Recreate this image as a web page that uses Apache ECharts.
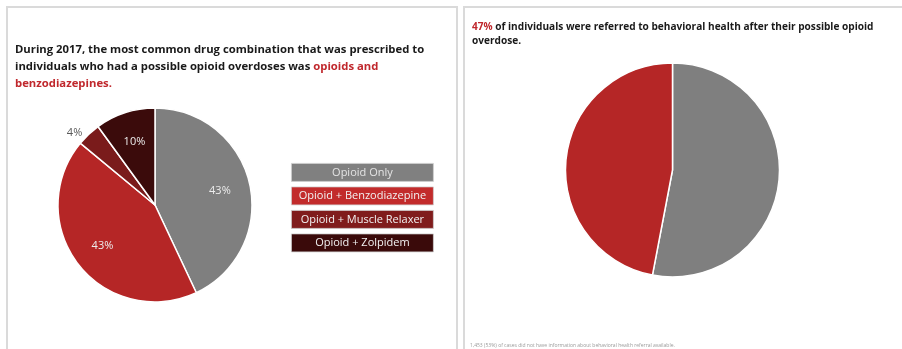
<!DOCTYPE html>
<html>
<head>
<meta charset="utf-8">
<script src="https://cdn.jsdelivr.net/npm/echarts@6/dist/echarts.min.js"></script>
<style>
  html, body { margin: 0; padding: 0; background: #fff; }
  #chart { width: 902px; height: 349px; }
</style>
</head>
<body>
<div id="chart"></div>
<script>
// Drug combinations prescribed to individuals with a possible opioid overdose (2017)
const comboNames = ['Opioid Only', 'Opioid + Benzodiazepine', 'Opioid + Muscle Relaxer', 'Opioid + Zolpidem'];
const comboShares = [43, 43, 4, 10];
const comboColors = ['#7f7f7f', '#b52626', '#7a1b1b', '#3b0b0b'];
const comboKeyColors = ['#808080', '#c22b2b', '#801c1c', '#3a0a0a'];

// Behavioral health referral after a possible opioid overdose
const referralNames = ['Not referred', 'Referred to behavioral health'];
const referralShares = [53, 47];
const referralColors = ['#7f7f7f', '#b52626'];

const FONT = '"Open Sans", "Liberation Sans", sans-serif';

const chart = echarts.init(document.getElementById('chart'), null, { renderer: 'canvas' });

const comboCenter = [155, 205];
const comboRadius = 97;

// Filled slices, no labels
const comboSlices = comboNames.map((name, i) => ({
  name,
  value: comboShares[i],
  itemStyle: { color: comboColors[i] }
}));

// Same values on a transparent ring so the inside labels sit further out
const comboLabels = comboNames.map((name, i) => ({
  name,
  value: comboShares[i],
  itemStyle: { color: 'rgba(0,0,0,0)' },
  label: comboShares[i] < 5
    ? { position: 'outside', color: '#595959' }
    : { position: 'inside', color: '#ececec' }
}));

const referralData = referralNames.map((name, i) => ({
  name,
  value: referralShares[i],
  itemStyle: { color: referralColors[i] }
}));

// Boxed key beside the combination pie
const keyItems = comboNames.map((name, i) => ({
  type: 'group',
  left: 291,
  top: 163 + i * 23.5,
  children: [
    {
      type: 'rect',
      shape: { x: 0, y: 0, width: 142, height: 18 },
      style: { fill: comboKeyColors[i], stroke: '#d0d0d0', lineWidth: 0.8 }
    },
    {
      type: 'text',
      x: 71, y: 9,
      style: {
        text: name, fill: i === 0 ? '#e4e4e4' : '#f2f2f2',
        font: '11px ' + FONT, align: 'center', verticalAlign: 'middle'
      }
    }
  ]
}));

chart.setOption({
  animation: false,
  title: [
    {
      left: 15, top: 41, padding: 0,
      text: 'During 2017, the most common drug combination that was prescribed to\n' +
            'individuals who had a possible opioid overdoses was {r|opioids and}\n' +
            '{r|benzodiazepines.}',
      textStyle: {
        fontFamily: FONT, fontWeight: 'bold', fontSize: 11.3, color: '#1a1a1a', lineHeight: 17,
        rich: { r: { color: '#c0282d', fontFamily: FONT, fontWeight: 'bold', fontSize: 11.3, lineHeight: 17 } }
      }
    },
    {
      left: 472, top: 20, padding: 0,
      text: '{r|47%} of individuals were referred to behavioral health after their possible opioid\noverdose.',
      textStyle: {
        fontFamily: FONT, fontWeight: 'bold', fontSize: 10.1, color: '#1a1a1a', lineHeight: 14,
        rich: { r: { color: '#c0282d', fontFamily: FONT, fontWeight: 'bold', fontSize: 10.1, lineHeight: 14 } }
      }
    }
  ],
  graphic: [
    {
      type: 'rect', silent: true,
      shape: { x: 7, y: 7, width: 450, height: 380 },
      style: { fill: 'none', stroke: '#dadada', lineWidth: 2 }
    },
    {
      type: 'rect', silent: true,
      shape: { x: 464, y: 7, width: 460, height: 380 },
      style: { fill: 'none', stroke: '#dadada', lineWidth: 2 }
    },
    {
      type: 'text', left: 470, top: 343,
      style: {
        text: '1,453 (53%) of cases did not have information about behavioral health referral available.',
        font: '5px ' + FONT, fill: '#9a9a9a'
      }
    },
    ...keyItems
  ],
  series: [
    {
      type: 'pie',
      center: comboCenter,
      radius: comboRadius,
      startAngle: 90,
      clockwise: true,
      data: comboSlices,
      itemStyle: { borderColor: '#ffffff', borderWidth: 1.5 },
      label: { show: false },
      labelLine: { show: false },
      emphasis: { disabled: true }
    },
    {
      type: 'pie',
      silent: true,
      center: comboCenter,
      radius: [30, comboRadius],
      startAngle: 90,
      clockwise: true,
      data: comboLabels,
      itemStyle: { borderWidth: 0 },
      label: {
        show: true,
        formatter: '{c}%',
        fontFamily: FONT, fontSize: 11
      },
      labelLine: { show: false, length: 2, length2: 0 },
      emphasis: { disabled: true }
    },
    {
      type: 'pie',
      center: [672.5, 170],
      radius: 107,
      startAngle: 90,
      clockwise: true,
      data: referralData,
      itemStyle: { borderColor: '#ffffff', borderWidth: 1.5 },
      label: { show: false },
      labelLine: { show: false },
      emphasis: { disabled: true }
    }
  ]
});
</script>
</body>
</html>
